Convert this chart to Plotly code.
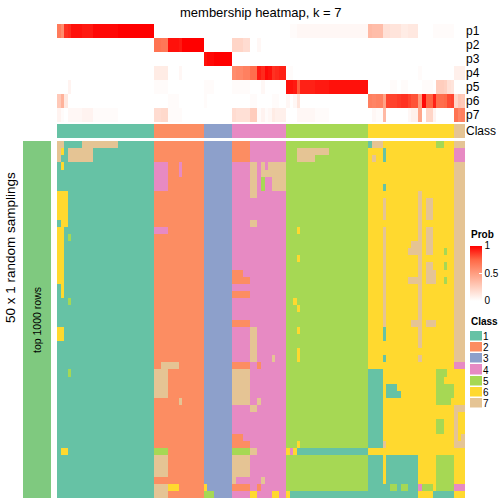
import numpy as np
import plotly.graph_objects as go

# ---------------- data ----------------
N_ROWS = 50          # 50 x 1 random samplings
N_COLS = 114         # samples
class_sizes = [27, 14, 8, 15, 23, 24, 3]          # samples per consensus class (in column order)
class_labels = ["1", "2", "3", "4", "5", "6", "7"]
prob_labels = ["p1", "p2", "p3", "p4", "p5", "p6", "p7"]
class_colors = ["#66C2A5", "#FC8D62", "#8DA0CB", "#E78AC3", "#A6D854", "#FFD92F", "#E5C494"]

# blocks where a sampling's class differs from the consensus class
# (row_from, row_to, col_from, col_to, class)
deviations = [
    # class 1 block
    (0, 0, 0, 1, 7), (0, 0, 7, 16, 7), (1, 2, 0, 0, 7), (1, 1, 1, 1, 6), (1, 2, 3, 9, 7),
    (3, 3, 1, 1, 6), (7, 10, 0, 2, 6), (11, 11, 1, 2, 6), (12, 19, 0, 1, 6), (20, 21, 1, 1, 6),
    (13, 13, 3, 3, 5), (22, 22, 3, 3, 5), (32, 32, 3, 3, 5), (26, 27, 0, 1, 6), (43, 43, 1, 2, 6),
    # class 2 block
    (3, 6, 27, 30, 4), (3, 4, 34, 34, 4), (12, 12, 27, 30, 4), (31, 31, 29, 33, 7),
    (32, 35, 27, 30, 7), (36, 36, 34, 34, 7), (43, 43, 27, 30, 5), (44, 46, 27, 30, 7),
    (48, 49, 27, 30, 7), (48, 48, 31, 33, 6),
    # class 3 block
    (48, 48, 41, 41, 6), (49, 49, 41, 43, 5),
    # class 4 block
    (0, 2, 49, 53, 2), (3, 7, 54, 55, 7), (3, 3, 57, 57, 7), (3, 3, 59, 63, 7), (4, 4, 57, 63, 7),
    (5, 6, 57, 57, 5), (5, 6, 60, 63, 7), (11, 11, 54, 55, 7), (18, 18, 49, 51, 2),
    (19, 19, 49, 53, 2), (21, 21, 49, 53, 2), (25, 25, 49, 53, 2), (26, 30, 54, 55, 7),
    (30, 30, 60, 60, 7), (31, 31, 49, 53, 2), (31, 31, 56, 56, 2), (32, 36, 49, 53, 7),
    (36, 36, 56, 56, 7), (37, 37, 54, 55, 7), (41, 41, 49, 51, 2), (42, 42, 49, 53, 2),
    (43, 43, 49, 53, 5), (43, 43, 54, 55, 7), (44, 46, 49, 53, 7), (47, 47, 49, 49, 7),
    (47, 47, 57, 57, 7), (48, 48, 49, 53, 2), (48, 48, 56, 56, 2), (49, 49, 54, 55, 6),
    (49, 49, 60, 61, 6),
    # class 5 block
    (1, 1, 67, 75, 7), (2, 2, 67, 71, 7), (12, 12, 67, 67, 6), (16, 16, 67, 67, 6),
    (22, 22, 66, 66, 6), (23, 23, 67, 67, 6), (26, 26, 67, 67, 6), (29, 30, 67, 67, 6),
    (42, 42, 67, 67, 6), (43, 43, 64, 64, 6), (43, 43, 65, 65, 4), (43, 43, 66, 66, 6),
    (43, 43, 67, 86, 1), (49, 49, 64, 64, 6), (49, 49, 65, 86, 1),
    # class 6 block
    (0, 0, 87, 87, 1), (0, 0, 88, 90, 7), (0, 0, 106, 107, 5), (1, 2, 91, 91, 1), (2, 2, 88, 88, 7),
    (6, 6, 91, 91, 1), (8, 10, 91, 91, 7), (12, 25, 91, 91, 7), (26, 27, 91, 91, 1),
    (30, 30, 91, 91, 1), (7, 28, 101, 101, 7), (30, 30, 101, 101, 7), (8, 10, 103, 104, 7),
    (12, 15, 103, 104, 7), (14, 14, 99, 100, 7), (15, 15, 98, 100, 7), (15, 15, 108, 108, 5),
    (17, 17, 103, 104, 7), (18, 19, 103, 105, 7), (17, 17, 108, 108, 5), (19, 19, 108, 108, 5),
    (19, 19, 98, 100, 7), (25, 25, 99, 100, 7), (25, 25, 103, 105, 7),
    (32, 42, 87, 90, 1), (34, 34, 92, 94, 1), (35, 35, 92, 95, 1), (32, 32, 106, 108, 5),
    (33, 33, 106, 107, 5), (34, 35, 106, 110, 5), (36, 36, 106, 109, 5), (39, 40, 106, 107, 5),
    (42, 42, 91, 91, 7), (44, 48, 87, 90, 1), (44, 48, 92, 100, 1), (44, 48, 106, 110, 5),
    (48, 48, 91, 91, 1), (48, 48, 93, 94, 5), (48, 48, 96, 97, 5), (48, 48, 101, 101, 4),
    (48, 48, 102, 104, 5), (49, 49, 87, 100, 1), (49, 49, 105, 110, 1),
    # class 7 block
    (1, 2, 111, 113, 4), (31, 31, 111, 113, 4), (32, 36, 111, 113, 6), (38, 41, 112, 113, 6),
    (41, 41, 113, 113, 7), (43, 49, 111, 113, 6), (48, 48, 111, 113, 4),
]

# ---------------- derived matrices ----------------
col_class = np.repeat(np.arange(1, 8), class_sizes)
M = np.tile(col_class, (N_ROWS, 1))
for r0, r1, c0, c1, k in deviations:
    M[r0:r1 + 1, c0:c1 + 1] = k
# membership = fraction of samplings assigning each sample to class k
P = np.array([(M == k).mean(axis=0) for k in range(1, 8)])

W = H = 504
def fx(px):
    return px / W
def fy(py):
    return 1 - py / H

def discrete_scale(colors):
    n = len(colors)
    cs = []
    for i, c in enumerate(colors):
        cs.append([i / n, c])
        cs.append([(i + 1) / n, c])
    return cs

cls_scale = discrete_scale(class_colors)
prob_scale = [[0, "#FFFFFF"], [0.25, "#FFCFBF"], [0.5, "#FF9E81"], [0.75, "#FF6846"], [1, "#FF0000"]]
FONT = "Liberation Sans, Arial, Helvetica, sans-serif"

fig = go.Figure()

# main sampling heatmap
fig.add_trace(go.Heatmap(z=M, x=np.arange(N_COLS), y=np.arange(N_ROWS), colorscale=cls_scale,
                         zmin=0.5, zmax=7.5, showscale=False, hoverinfo="skip",
                         xaxis="x", yaxis="y"))
# membership probabilities
fig.add_trace(go.Heatmap(z=P, x=np.arange(N_COLS), y=np.arange(7), colorscale=prob_scale,
                         zmin=0, zmax=1, hoverinfo="skip", xaxis="x2", yaxis="y2",
                         colorbar=dict(x=fx(470), xanchor="left", xpad=0, y=fy(245.5), yanchor="top",
                                       ypad=0, len=55, lenmode="pixels", thickness=12,
                                       thicknessmode="pixels", outlinewidth=0,
                                       tickvals=[0, 0.5, 1], ticktext=["0", "0.5", "1"],
                                       ticks="inside", ticklen=3, tickcolor="white",
                                       tickfont=dict(family=FONT, size=10, color="black"))))
# class annotation row
fig.add_trace(go.Heatmap(z=[col_class], x=np.arange(N_COLS), y=[0], colorscale=cls_scale,
                         zmin=0.5, zmax=7.5, showscale=False, hoverinfo="skip",
                         xaxis="x3", yaxis="y3"))
# left row-group bar
fig.add_trace(go.Heatmap(z=[[1]], x=[0], y=[0], colorscale=[[0, "#7FC97F"], [1, "#7FC97F"]],
                         showscale=False, hoverinfo="skip", xaxis="x4", yaxis="y4"))
# class legend swatches
fig.add_trace(go.Heatmap(z=[[k] for k in range(1, 8)], x=[0], y=np.arange(7), colorscale=cls_scale,
                         zmin=0.5, zmax=7.5, showscale=False, ygap=1.5, hoverinfo="skip",
                         xaxis="x5", yaxis="y5"))

hidden = dict(visible=False, showgrid=False, zeroline=False)
xr = [-0.5, N_COLS - 0.5]
lab_axis = dict(showgrid=False, zeroline=False, showline=False, ticks="", side="right",
                tickfont=dict(family=FONT, size=12, color="black"))

def ann(text, x, y, size, xanchor="center", yanchor="middle", angle=0):
    return dict(text=text, x=fx(x), y=fy(y), xref="paper", yref="paper", xanchor=xanchor,
                yanchor=yanchor, textangle=angle, showarrow=False,
                font=dict(family=FONT, size=size, color="black"))

fig.update_layout(
    width=W, height=H, autosize=False, margin=dict(l=0, r=0, t=0, b=0),
    plot_bgcolor="white", paper_bgcolor="white",
    xaxis=dict(domain=[fx(57), fx(465)], range=xr, anchor="y", **hidden),
    yaxis=dict(domain=[fy(498), fy(141)], range=[N_ROWS - 0.5, -0.5], anchor="x", **hidden),
    xaxis2=dict(domain=[fx(57), fx(465)], range=xr, anchor="y2", **hidden),
    yaxis2=dict(domain=[fy(122), fy(24)], range=[6.5, -0.5], anchor="x2",
                tickvals=list(range(7)), ticktext=prob_labels, **lab_axis),
    xaxis3=dict(domain=[fx(57), fx(465)], range=xr, anchor="y3", **hidden),
    yaxis3=dict(domain=[fy(138), fy(124)], range=[0.5, -0.5], anchor="x3",
                tickvals=[0], ticktext=["Class"], **lab_axis),
    xaxis4=dict(domain=[fx(23), fx(51)], range=[-0.5, 0.5], anchor="y4", **hidden),
    yaxis4=dict(domain=[fy(498), fy(141)], range=[-0.5, 0.5], anchor="x4", **hidden),
    xaxis5=dict(domain=[fx(470), fx(482)], range=[-0.5, 0.5], anchor="y5", **hidden),
    yaxis5=dict(domain=[fy(409), fy(331)], range=[6.5, -0.5], anchor="x5",
                tickvals=list(range(7)), ticktext=class_labels,
                showgrid=False, zeroline=False, showline=False, ticks="", side="right",
                tickfont=dict(family=FONT, size=10, color="black")),
    annotations=[
        ann("membership heatmap, k = 7", 261, 12, 13),
        ann("50 x 1 random samplings", 10, 248, 13.5, angle=-90),
        ann("top 1000 rows", 37, 320, 10.5, angle=-90),
        ann("<b>Prob</b>", 469, 234.5, 10, xanchor="left"),
        ann("<b>Class</b>", 469, 321, 10, xanchor="left"),
    ],
)

fig.write_html("out.html", config={"displayModeBar": False},
               post_script="document.body.style.margin='0';document.body.style.overflow='hidden';")
